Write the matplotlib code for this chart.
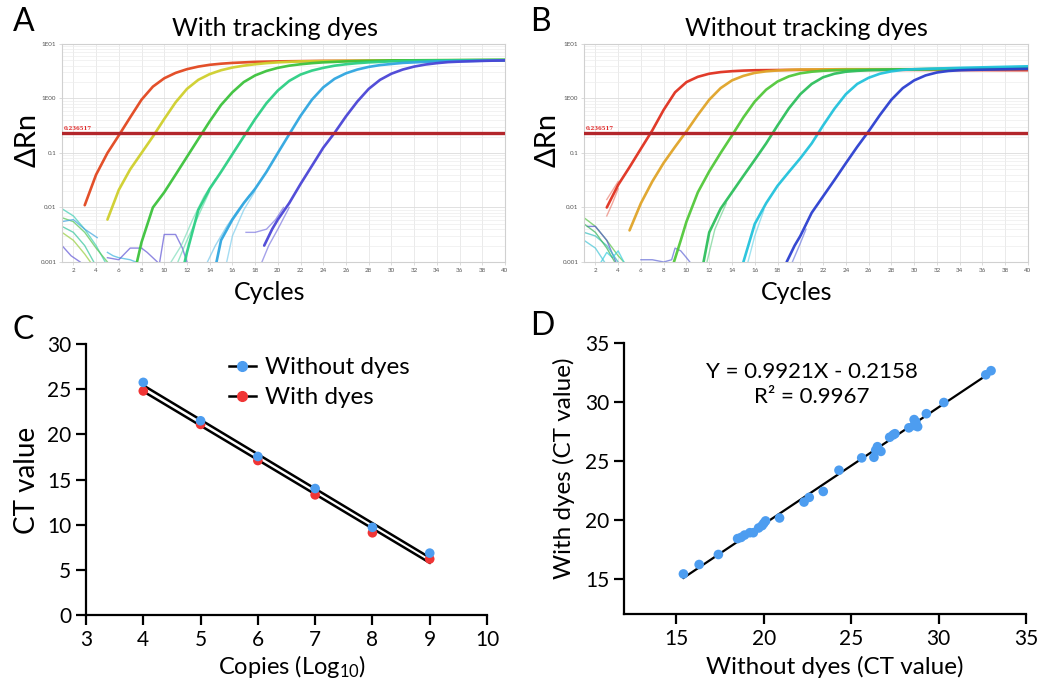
import numpy as np
import matplotlib
matplotlib.use('Agg')
import matplotlib.pyplot as plt
from matplotlib.lines import Line2D

plt.rcParams['font.family'] = ['Lato', 'DejaVu Sans']
plt.rcParams['mathtext.fontset'] = 'custom'
plt.rcParams['mathtext.rm'] = 'Lato'

# ---------------- data ----------------
threshold = 0.236517

# Panel A: amplification curves with tracking dyes (cycle, delta Rn)
a_red_c = [3, 4, 5, 6, 7, 8, 9, 10, 11, 12, 13, 14, 15, 16, 18, 20, 24, 30, 40]
a_red_v = [0.011, 0.04, 0.10, 0.21, 0.45, 0.95, 1.65, 2.35, 2.95, 3.45, 3.85, 4.15, 4.35, 4.5, 4.7, 4.8, 4.9, 4.95, 5.0]
a_yel_c = [5, 6, 7, 8, 9, 10, 11, 12, 13, 14, 15, 16, 17, 18, 19, 20, 22, 26, 30, 40]
a_yel_v = [0.006, 0.021, 0.05, 0.10, 0.20, 0.42, 0.85, 1.5, 2.2, 2.8, 3.3, 3.7, 4.0, 4.25, 4.45, 4.6, 4.8, 4.9, 5.0, 5.1]
a_grn_c = [7.6, 8, 9, 10, 11, 12, 13, 14, 15, 16, 17, 18, 19, 20, 21, 22, 23, 24, 26, 30, 40]
a_grn_v = [0.001, 0.0023, 0.010, 0.019, 0.040, 0.085, 0.18, 0.38, 0.76, 1.3, 2.0, 2.65, 3.2, 3.65, 4.0, 4.25, 4.45, 4.6, 4.8, 5.0, 5.1]
a_gr2_c = [11.8, 12, 13, 14, 15, 16, 17, 18, 19, 20, 21, 22, 23, 24, 25, 26, 27, 28, 30, 34, 40]
a_gr2_v = [0.001, 0.0015, 0.009, 0.022, 0.045, 0.095, 0.20, 0.42, 0.82, 1.4, 2.1, 2.75, 3.25, 3.65, 4.0, 4.25, 4.45, 4.6, 4.8, 5.0, 5.1]
a_cyn_c = [14.6, 15, 16, 17, 18, 19, 20, 21, 22, 23, 24, 25, 26, 27, 28, 29, 30, 31, 32, 34, 40]
a_cyn_v = [0.001, 0.0025, 0.006, 0.012, 0.022, 0.045, 0.10, 0.22, 0.48, 0.95, 1.6, 2.3, 2.9, 3.4, 3.8, 4.1, 4.3, 4.5, 4.6, 4.8, 5.0]
a_blu_c = [18.8, 19.5, 20, 21, 22, 23, 24, 25, 26, 27, 28, 29, 30, 31, 32, 33, 34, 35, 36, 38, 40]
a_blu_v = [0.002, 0.004, 0.006, 0.012, 0.027, 0.058, 0.125, 0.235, 0.47, 0.88, 1.5, 2.2, 2.85, 3.4, 3.85, 4.2, 4.45, 4.65, 4.75, 4.9, 5.0]
# replicate traces (early phase) in panel A
a_rep_gr2_1_c = [11.2, 12, 13, 14]
a_rep_gr2_1_v = [0.001, 0.0025, 0.007, 0.020]
a_rep_gr2_2_c = [10.6, 11.5, 12.5, 13.5, 14.5]
a_rep_gr2_2_v = [0.001, 0.002, 0.006, 0.016, 0.033]
a_rep_cyn_1_c = [13.8, 14.5, 15.5, 16.5, 17.5]
a_rep_cyn_1_v = [0.001, 0.002, 0.0045, 0.009, 0.017]
a_rep_cyn_2_c = [15.5, 16, 17, 18]
a_rep_cyn_2_v = [0.001, 0.003, 0.009, 0.020]
a_rep_blu_1_c = [17.2, 18, 19, 19.8, 20.5]
a_rep_blu_1_v = [0.0035, 0.0035, 0.004, 0.006, 0.010]
a_rep_blu_2_c = [18.6, 19.2, 20, 21]
a_rep_blu_2_v = [0.001, 0.002, 0.004, 0.010]
# baseline noise traces in panel A
a_noise_1_c = [1, 2, 3, 4, 4.8];   a_noise_1_v = [0.0095, 0.007, 0.004, 0.002, 0.001]
a_noise_2_c = [1, 2, 3, 4, 5];     a_noise_2_v = [0.0065, 0.0055, 0.0035, 0.0018, 0.001]
a_noise_3_c = [1, 2, 3, 4.1];      a_noise_3_v = [0.0055, 0.006, 0.004, 0.0028]
a_noise_4_c = [1, 2, 3, 3.5];      a_noise_4_v = [0.0035, 0.0025, 0.0014, 0.001]
a_noise_5_c = [1, 1.8, 2.6];       a_noise_5_v = [0.002, 0.0013, 0.001]
a_noise_6_c = [1, 2, 3, 3.8];      a_noise_6_v = [0.0045, 0.0035, 0.002, 0.001]
a_noise_7_c = [5, 5.5, 6, 7, 7.5]; a_noise_7_v = [0.0015, 0.0013, 0.0012, 0.0011, 0.001]
a_noise_8_c = [5, 6, 7, 8, 8.5, 9.4]; a_noise_8_v = [0.0012, 0.0011, 0.0018, 0.0018, 0.0015, 0.001]
a_noise_9_c = [9.6, 10, 11, 11.6, 12]; a_noise_9_v = [0.001, 0.0032, 0.0032, 0.0018, 0.001]

# Panel B: amplification curves without tracking dyes
b_red_c = [3, 4, 5, 6, 7, 8, 9, 10, 11, 12, 13, 14, 15, 16, 18, 20, 30, 40]
b_red_v = [0.010, 0.026, 0.055, 0.12, 0.26, 0.62, 1.3, 2.0, 2.5, 2.85, 3.05, 3.17, 3.25, 3.3, 3.33, 3.35, 3.35, 3.3]
b_org_c = [5, 6, 7, 8, 9, 10, 11, 12, 13, 14, 15, 16, 17, 18, 19, 20, 24, 30, 40]
b_org_v = [0.0038, 0.012, 0.030, 0.066, 0.13, 0.25, 0.5, 0.95, 1.55, 2.15, 2.6, 2.95, 3.15, 3.27, 3.35, 3.4, 3.45, 3.45, 3.5]
b_grn_c = [8.9, 9.5, 10, 11, 12, 13, 14, 15, 16, 17, 18, 19, 20, 21, 22, 23, 24, 28, 40]
b_grn_v = [0.001, 0.0025, 0.0055, 0.019, 0.046, 0.10, 0.21, 0.45, 0.88, 1.45, 2.05, 2.55, 2.9, 3.1, 3.22, 3.3, 3.35, 3.4, 3.6]
b_gr2_c = [11.5, 12, 13, 14, 15, 16, 17, 18, 19, 20, 21, 22, 23, 24, 25, 26, 28, 30, 40]
b_gr2_v = [0.001, 0.0035, 0.0095, 0.019, 0.038, 0.075, 0.15, 0.32, 0.66, 1.2, 1.85, 2.45, 2.85, 3.1, 3.22, 3.3, 3.38, 3.42, 3.7]
b_cyn_c = [15, 16, 17, 18, 19, 20, 21, 22, 23, 24, 25, 26, 27, 28, 29, 30, 32, 34, 40]
b_cyn_v = [0.001, 0.005, 0.012, 0.025, 0.045, 0.08, 0.15, 0.32, 0.65, 1.2, 1.85, 2.4, 2.85, 3.15, 3.35, 3.45, 3.55, 3.65, 3.9]
b_blu_c = [18.8, 19.5, 20, 21, 22, 23, 24, 25, 26, 27, 28, 29, 30, 31, 32, 33, 34, 35, 36, 40]
b_blu_v = [0.001, 0.002, 0.003, 0.008, 0.016, 0.032, 0.065, 0.13, 0.25, 0.5, 0.95, 1.55, 2.15, 2.65, 3.0, 3.2, 3.3, 3.35, 3.38, 3.5]
b_rep_red_1_c = [3, 3.5, 4];  b_rep_red_1_v = [0.007, 0.012, 0.022]
b_rep_red_2_c = [3, 4];       b_rep_red_2_v = [0.014, 0.030]
b_rep_gr2_1_c = [11.8, 12.5, 13.5]; b_rep_gr2_1_v = [0.001, 0.004, 0.012]
b_rep_cyn_1_c = [15.4, 16, 16.8];   b_rep_cyn_1_v = [0.001, 0.003, 0.009]
b_rep_blu_1_c = [19.3, 20, 20.5];   b_rep_blu_1_v = [0.001, 0.0022, 0.004]
b_noise_1_c = [1, 2, 3, 4, 4.5];  b_noise_1_v = [0.0065, 0.0045, 0.0025, 0.0013, 0.001]
b_noise_2_c = [1.3, 2, 3, 3.8];   b_noise_2_v = [0.0045, 0.0045, 0.0025, 0.001]
b_noise_3_c = [1, 2, 3, 4];       b_noise_3_v = [0.0035, 0.003, 0.002, 0.001]
b_noise_4_c = [2.5, 3, 3.5, 4, 4.5]; b_noise_4_v = [0.001, 0.0015, 0.0012, 0.0016, 0.001]
b_noise_5_c = [1, 2, 3, 3.7];     b_noise_5_v = [0.005, 0.0035, 0.0018, 0.001]
b_noise_6_c = [6, 7, 8, 8.7, 9, 9.5, 10, 10.3]; b_noise_6_v = [0.0011, 0.0011, 0.001, 0.0011, 0.0018, 0.0016, 0.0012, 0.001]
b_noise_7_c = [1, 2, 2.8];        b_noise_7_v = [0.0025, 0.0018, 0.001]

# Panel C: standard curves
copies_log = [4, 5, 6, 7, 8, 9]
ct_without = [25.75, 21.5, 17.55, 14.0, 9.7, 6.85]
ct_with = [24.8, 21.1, 17.1, 13.3, 9.1, 6.2]

# Panel D: correlation
d_without = [15.4, 16.3, 17.4, 18.5, 18.7, 18.9, 19.2, 19.4, 19.7, 19.9, 20.0, 20.1, 20.9, 22.3, 22.6,
             23.4, 24.3, 25.6, 26.3, 26.4, 26.5, 26.6, 26.7, 27.2, 27.4, 27.5, 28.3, 28.6, 28.6, 28.7,
             28.8, 29.3, 30.3, 32.7, 33.0]
d_with = [15.4, 16.2, 17.05, 18.4, 18.5, 18.7, 18.9, 18.9, 19.3, 19.5, 19.7, 19.9, 20.15, 21.5, 21.9,
          22.4, 24.2, 25.25, 25.3, 25.9, 26.2, 25.9, 25.8, 27.0, 27.2, 27.3, 27.8, 28.5, 28.0, 28.3,
          27.9, 29.0, 29.95, 32.3, 32.65]
fit_slope = 0.9921
fit_intercept = -0.2158
fit_r2 = 0.9967

# ---------------- figure ----------------
W, H = 1041, 683
fig = plt.figure(figsize=(W / 100, H / 100), dpi=100)


def fx(px):
    return px / W


def fy(py):
    return 1 - py / H


def amp_panel(rect, curves, reps, noises):
    ax = fig.add_axes(rect)
    ax.set_yscale('log')
    ax.set_xlim(1, 40)
    ax.set_ylim(0.001, 10)
    for c in range(2, 41, 2):
        ax.axvline(c, color='#e6e6e6', lw=0.6, zorder=0)
    for dec in [0.001, 0.01, 0.1, 1]:
        for m in range(2, 10):
            ax.axhline(dec * m, color='#ededed', lw=0.5, zorder=0)
        ax.axhline(dec, color='#dcdcdc', lw=0.6, zorder=0)
    for c, v, col in noises:
        ax.plot(c, v, color=col, lw=1.0, alpha=0.75, zorder=2)
    for c, v, col in reps:
        ax.plot(c, v, color=col, lw=1.0, alpha=0.6, zorder=2)
    for c, v, col in curves:
        ax.plot(c, v, color=col, lw=1.9, alpha=0.95, zorder=3,
                solid_capstyle='round', solid_joinstyle='round')
    ax.axhline(threshold, color='#b3262b', lw=2.4, zorder=4)
    ax.text(1.15, threshold * 1.08, '0.236517', color='#e02a2a', fontsize=3.9,
            family='DejaVu Serif', fontweight='bold', va='bottom', ha='left', zorder=5)
    ax.set_yticks([10, 1, 0.1, 0.01, 0.001])
    ax.set_yticklabels(['1E01', '1E00', '0.1', '0.01', '0.001'])
    ax.minorticks_off()
    ax.set_xticks(list(range(2, 41, 2)))
    ax.set_xticklabels([str(c) for c in range(2, 41, 2)])
    ax.tick_params(axis='both', labelsize=4.5, labelcolor='#555555', length=2,
                   color='#cccccc', pad=2, width=0.5)
    for s in ax.spines.values():
        s.set_color('#d0d0d0')
        s.set_linewidth(0.8)
    return ax


curves_a = [(a_red_c, a_red_v, '#e2461e'), (a_yel_c, a_yel_v, '#cfcf2c'),
            (a_grn_c, a_grn_v, '#3cc23c'), (a_gr2_c, a_gr2_v, '#2ccf84'),
            (a_cyn_c, a_cyn_v, '#2fa6e0'), (a_blu_c, a_blu_v, '#4a44d6')]
reps_a = [(a_rep_gr2_1_c, a_rep_gr2_1_v, '#52d8a0'), (a_rep_gr2_2_c, a_rep_gr2_2_v, '#6ad8b0'),
          (a_rep_cyn_1_c, a_rep_cyn_1_v, '#5cbce6'), (a_rep_cyn_2_c, a_rep_cyn_2_v, '#6ac6ea'),
          (a_rep_blu_1_c, a_rep_blu_1_v, '#6a64dc'), (a_rep_blu_2_c, a_rep_blu_2_v, '#6a64dc')]
noise_a = [(a_noise_1_c, a_noise_1_v, '#48d0b8'), (a_noise_2_c, a_noise_2_v, '#5cc85c'),
           (a_noise_3_c, a_noise_3_v, '#48a8e0'), (a_noise_4_c, a_noise_4_v, '#9cd048'),
           (a_noise_5_c, a_noise_5_v, '#6a60d8'), (a_noise_6_c, a_noise_6_v, '#40c8a0'),
           (a_noise_7_c, a_noise_7_v, '#48b8e0'), (a_noise_8_c, a_noise_8_v, '#6a60d8'),
           (a_noise_9_c, a_noise_9_v, '#6a60d8')]

curves_b = [(b_red_c, b_red_v, '#e0301e'), (b_org_c, b_org_v, '#e0a428'),
            (b_grn_c, b_grn_v, '#52c83a'), (b_gr2_c, b_gr2_v, '#2ebf5c'),
            (b_cyn_c, b_cyn_v, '#22c2dc'), (b_blu_c, b_blu_v, '#2b3fd0')]
reps_b = [(b_rep_red_1_c, b_rep_red_1_v, '#e87060'), (b_rep_red_2_c, b_rep_red_2_v, '#e87060'),
          (b_rep_gr2_1_c, b_rep_gr2_1_v, '#5ccc80'), (b_rep_cyn_1_c, b_rep_cyn_1_v, '#5cd0e6'),
          (b_rep_blu_1_c, b_rep_blu_1_v, '#5a68dc')]
noise_b = [(b_noise_1_c, b_noise_1_v, '#60c850'), (b_noise_2_c, b_noise_2_v, '#5a5ad0'),
           (b_noise_3_c, b_noise_3_v, '#40c0c0'), (b_noise_4_c, b_noise_4_v, '#40d0e0'),
           (b_noise_5_c, b_noise_5_v, '#40b860'), (b_noise_6_c, b_noise_6_v, '#6a70d8'),
           (b_noise_7_c, b_noise_7_v, '#50c8d8')]

axA = amp_panel([fx(62), fy(262), fx(505 - 62), (262 - 44) / H], curves_a, reps_a, noise_a)
axB = amp_panel([fx(584), fy(262), fx(1028 - 584), (262 - 44) / H], curves_b, reps_b, noise_b)

fig.text(fx(275), fy(28), 'With tracking dyes', ha='center', va='center', fontsize=18)
fig.text(fx(806), fy(28), 'Without tracking dyes', ha='center', va='center', fontsize=18)
fig.text(fx(28), fy(140), 'ΔRn', rotation=90, ha='center', va='center', fontsize=21)
fig.text(fx(548), fy(140), 'ΔRn', rotation=90, ha='center', va='center', fontsize=21)
fig.text(fx(270), fy(293), 'Cycles', ha='center', va='center', fontsize=18)
fig.text(fx(797), fy(293), 'Cycles', ha='center', va='center', fontsize=18)

for lab, x, y in [('A', 24, 22), ('B', 540, 22), ('C', 23, 330), ('D', 542, 326)]:
    fig.text(fx(x), fy(y), lab, ha='center', va='center', fontsize=23)

# ---------- Panel C ----------
blue = '#4d9df0'
red = '#f03535'
axC = fig.add_axes([fx(86), fy(615), fx(487 - 86), (615 - 344) / H])
xs = np.array(copies_log, dtype=float)
for vals in [ct_without, ct_with]:
    k, b0 = np.polyfit(xs, vals, 1)
    axC.plot(xs, k * xs + b0, color='black', lw=1.8, zorder=2)
axC.scatter(copies_log, ct_with, s=48, color=red, zorder=3, edgecolors='none')
axC.scatter(copies_log, ct_without, s=48, color=blue, zorder=4, edgecolors='none')
axC.set_xlim(3, 10)
axC.set_ylim(0, 30)
axC.set_xticks(range(3, 11))
axC.set_yticks(range(0, 31, 5))
axC.spines['top'].set_visible(False)
axC.spines['right'].set_visible(False)
for s in ['left', 'bottom']:
    axC.spines[s].set_linewidth(1.6)
axC.tick_params(labelsize=15, length=7.5, width=1.6, pad=3)
handles = [Line2D([0], [0], color='black', lw=1.8, marker='o', markersize=7,
                  markerfacecolor=blue, markeredgecolor=blue),
           Line2D([0], [0], color='black', lw=1.8, marker='o', markersize=7,
                  markerfacecolor=red, markeredgecolor=red)]
fig.legend(handles, ['Without dyes', 'With dyes'], loc='upper left',
           bbox_to_anchor=(fx(229), fy(357)), frameon=False, fontsize=17.5,
           handlelength=1.1, handletextpad=0.4, labelspacing=0.38,
           borderpad=0, borderaxespad=0)
fig.text(fx(27), fy(480), 'CT value', rotation=90, ha='center', va='center', fontsize=20)
fig.text(fx(292), fy(667), 'Copies (Log$\\mathregular{_{10}}$)', ha='center', va='center', fontsize=17)

# ---------- Panel D ----------
axD = fig.add_axes([fx(624), fy(614), fx(1026 - 624), (614 - 343) / H])
xfit = np.array([min(d_without), max(d_without)])
axD.plot(xfit, fit_slope * xfit + fit_intercept, color='black', lw=1.6, zorder=2)
axD.scatter(d_without, d_with, s=48, color=blue, zorder=3, edgecolors='none')
axD.set_xlim(12, 35)
axD.set_ylim(12, 35)
axD.set_xticks(range(15, 36, 5))
axD.set_yticks(range(15, 36, 5))
axD.spines['top'].set_visible(False)
axD.spines['right'].set_visible(False)
for s in ['left', 'bottom']:
    axD.spines[s].set_linewidth(1.6)
axD.tick_params(labelsize=15, length=7.5, width=1.6, pad=3)
fig.text(fx(812), fy(372), 'Y = %.4fX - %.4f' % (fit_slope, -fit_intercept),
         ha='center', va='center', fontsize=16)
fig.text(fx(812), fy(397), 'R² = %.4f' % fit_r2, ha='center', va='center', fontsize=16)
fig.text(fx(564), fy(468), 'With dyes (CT value)', rotation=90, ha='center', va='center', fontsize=17.5)
fig.text(fx(835), fy(667), 'Without dyes (CT value)', ha='center', va='center', fontsize=17.5)

fig.savefig('out.png', dpi=100, facecolor='white')
